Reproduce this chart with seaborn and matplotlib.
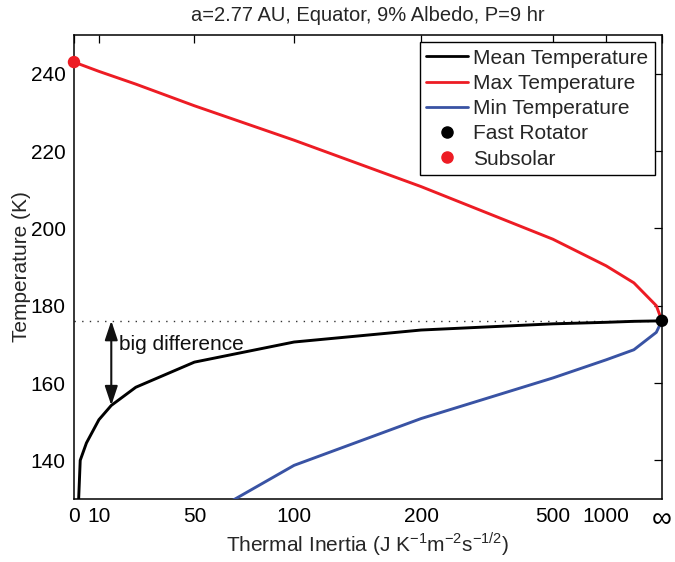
import numpy as np
import pandas as pd
import seaborn as sns
import matplotlib.pyplot as plt
from matplotlib.lines import Line2D

INF = 1e9  # stands in for infinite thermal inertia

# thermal inertia values and temperatures (K)
inertia_mean = [0, 2.5, 5, 10, 15, 25, 50, 100, 200, 500, 1000, 2000, 10000, INF]
temp_mean = [100, 140, 144.5, 150.5, 154.2, 158.9, 165.4, 170.6, 173.7, 175.3, 175.7, 175.95, 176.05, 176.1]

inertia_max = [0, 10, 25, 50, 100, 200, 500, 1000, 2000, 10000, INF]
temp_max = [243.0, 240.6, 237.3, 231.7, 222.8, 210.8, 197.2, 190.3, 185.9, 180.0, 176.1]

inertia_min = [50, 100, 200, 500, 1000, 2000, 10000, INF]
temp_min = [124.0, 138.7, 150.8, 161.3, 166.0, 168.6, 173.1, 176.1]

fast_rotator_x, fast_rotator_t = INF, 176.1
subsolar_x, subsolar_t = 0, 243.0

xtick_vals = [0, 10, 50, 100, 200, 500, 1000, INF]
xtick_labels = ['0', '10', '50', '100', '200', '500', '1000', '\u221e']
ytick_vals = [140, 160, 180, 200, 220, 240]

RED = '#ed1c24'
BLUE = '#3953a4'

sns.set_style('white')
plt.rcParams['font.family'] = ['Liberation Sans', 'DejaVu Sans']
plt.rcParams['mathtext.fontset'] = 'custom'
plt.rcParams['mathtext.rm'] = 'Liberation Sans'

fig = plt.figure(figsize=(6.75, 5.62), dpi=100)
ax = fig.add_axes([0.1096, 0.1121, 0.871, 0.8256])

df_mean = pd.DataFrame({'x': inertia_mean, 'T': temp_mean})
df_max = pd.DataFrame({'x': inertia_max, 'T': temp_max})
df_min = pd.DataFrame({'x': inertia_min, 'T': temp_min})

# dotted reference line at the fast rotator temperature
ax.plot([0, INF], [fast_rotator_t, fast_rotator_t], color='#333333', lw=1.0,
        linestyle=(0, (1, 4.5)), zorder=1)

sns.lineplot(data=df_mean, x='x', y='T', color='black', lw=2.1, ax=ax, legend=False, zorder=3)
sns.lineplot(data=df_max, x='x', y='T', color=RED, lw=2.1, ax=ax, legend=False, zorder=3)
sns.lineplot(data=df_min, x='x', y='T', color=BLUE, lw=2.1, ax=ax, legend=False, zorder=3)

sns.scatterplot(x=[fast_rotator_x], y=[fast_rotator_t], color='black', s=80,
                edgecolor='none', ax=ax, zorder=5, clip_on=False)
sns.scatterplot(x=[subsolar_x], y=[subsolar_t], color=RED, s=80,
                edgecolor='none', ax=ax, zorder=5, clip_on=False)

# x axis: arctan-compressed so infinity fits at the right edge
ax.set_xscale('function', functions=(lambda x: np.arctan(np.asarray(x) / 150.0),
                                     lambda u: 150.0 * np.tan(np.asarray(u))))
ax.set_xlim(0, INF)
ax.set_ylim(130, 250)
ax.set_xticks(xtick_vals)
ax.set_xticklabels(xtick_labels)
ax.set_yticks(ytick_vals)
ax.minorticks_off()

# big difference arrow
arrow_x = 15
arrow_low = temp_mean[inertia_mean.index(arrow_x)]
ax.annotate('', xy=(arrow_x, arrow_low), xytext=(arrow_x, fast_rotator_t),
            arrowprops=dict(arrowstyle='<|-|>,head_length=0.9,head_width=0.3',
                            color='#111111', lw=1.5, mutation_scale=13,
                            shrinkA=0, shrinkB=0), zorder=4)
ax.text(18, 170, 'big difference', fontsize=15, va='center', ha='left', color='#111111')

ax.tick_params(direction='in', length=6, width=0.9, top=True, right=True,
               labelsize=15, colors='black', pad=6)
ax.get_xticklabels()[-1].set_fontsize(20)
for s in ax.spines.values():
    s.set_color('black')
    s.set_linewidth(1.1)

ax.set_xlabel('Thermal Inertia (J K$^{-1}$m$^{-2}$s$^{-1/2}$)', fontsize=15)
ax.xaxis.set_label_coords(0.5, -0.068)
ax.set_ylabel('Temperature (K)', fontsize=15, labelpad=0)
ax.set_title('a=2.77 AU, Equator, 9% Albedo, P=9 hr', fontsize=14.5, pad=10)

handles = [
    Line2D([], [], color='black', lw=2),
    Line2D([], [], color=RED, lw=2),
    Line2D([], [], color=BLUE, lw=2),
    Line2D([], [], color='black', marker='o', ls='none', markersize=8),
    Line2D([], [], color=RED, marker='o', ls='none', markersize=8),
]
labels = ['Mean Temperature', 'Max Temperature', 'Min Temperature', 'Fast Rotator', 'Subsolar']
leg = ax.legend(handles, labels, loc='upper right', fontsize=15, frameon=True,
                fancybox=False, framealpha=1, edgecolor='black',
                handlelength=2.0, handletextpad=0.25, labelspacing=0.3,
                borderpad=0.3, borderaxespad=0.35)
leg.get_frame().set_linewidth(1.0)

fig.savefig('out.png', dpi=100)
